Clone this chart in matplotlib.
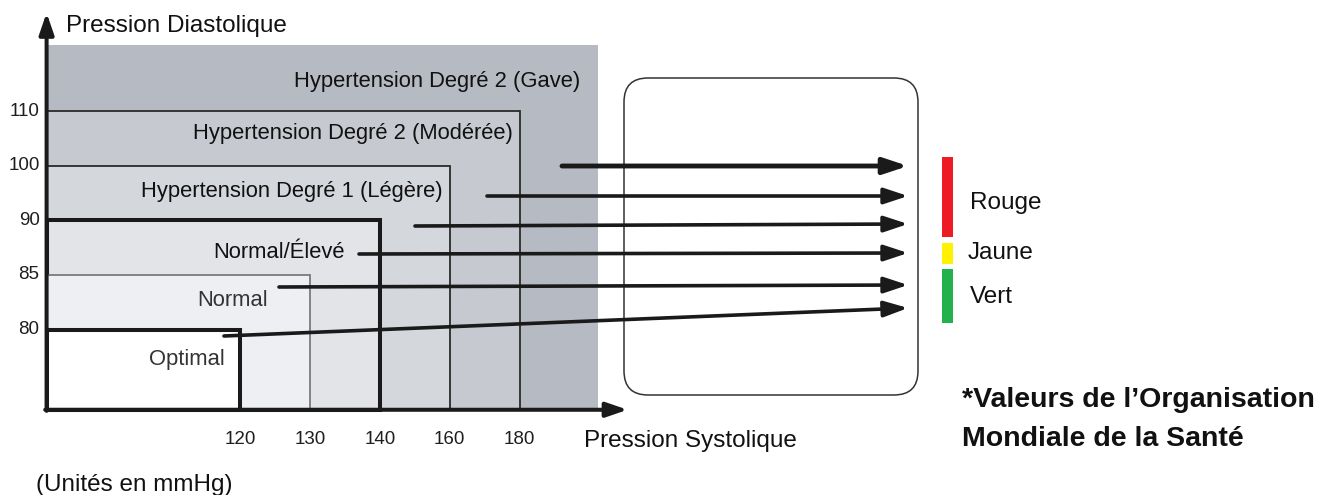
import matplotlib
matplotlib.use("Agg")
import matplotlib.pyplot as plt
from matplotlib.patches import Rectangle, FancyBboxPatch

plt.rcParams['font.family'] = ['Liberation Sans', 'DejaVu Sans']

# WHO blood-pressure classification thresholds (mmHg)
systolic_ticks = [120, 130, 140, 160, 180]
diastolic_ticks = [80, 85, 90, 100, 110]

# Categories from the innermost (lowest) to the outermost band
categories = [
    "Optimal",
    "Normal",
    "Normal/Élevé",
    "Hypertension Degré 1 (Légère)",
    "Hypertension Degré 2 (Modérée)",
    "Hypertension Degré 2 (Gave)",
]
category_signal = ["Vert", "Vert", "Jaune", "Rouge", "Rouge", "Rouge"]

signal_names = ["Rouge", "Jaune", "Vert"]
signal_colors = ["#ed1c24", "#fff200", "#22b14c"]

# ---- styling -------------------------------------------------------------
band_fill = ["#ffffff", "#eeeff2", "#e2e4e8", "#d4d7dc", "#c6c9d0", "#b6bac3"]
band_edge = ["#1a1a1a", "#7a7a7a", "#1a1a1a", "#2a2a2a", "#2a2a2a", "none"]
band_lw = [2.9, 1.3, 2.9, 1.3, 1.3, 0]
ink = "#1a1a1a"

W, H = 1343, 495
fig = plt.figure(figsize=(W / 100, H / 100), dpi=100)

# Ordinal axes: each threshold sits on its own slot
slot_px, slot_step = 240.5, 69.75        # x pixel of first slot, slot width
row_px, row_step = 329.5, 54.6           # y pixel (from top) of first row, row height
ax = fig.add_axes([0, 0, 1, 1])
ax.set_xlim(-slot_px / slot_step, (W - slot_px) / slot_step)
ax.set_ylim((row_px - H) / row_step, row_px / row_step)
ax.axis("off")

x0, y0 = -2.78, -1.47    # origin
xe, ye = 5.12, 5.21      # outer edge of the last band

# Nested bands, outermost first
for k in range(len(categories) - 1, -1, -1):
    right = xe if k == len(categories) - 1 else k
    top = ye if k == len(categories) - 1 else k
    ax.add_patch(Rectangle((x0, y0), right - x0, top - y0,
                           facecolor=band_fill[k], edgecolor=band_edge[k],
                           linewidth=band_lw[k], zorder=1 + (len(categories) - k) * 0.01,
                           joinstyle="miter"))

# Axes with arrow heads
axis_kw = dict(arrowstyle="-|>,head_length=1.6,head_width=0.55", lw=2.9,
               color=ink, mutation_scale=8, shrinkA=0, shrinkB=0)
ax.annotate("", xy=(x0, 5.80), xytext=(x0, y0 - 0.02), arrowprops=axis_kw, zorder=5)
ax.annotate("", xy=(5.55, y0), xytext=(x0 - 0.02, y0), arrowprops=axis_kw, zorder=5)

# Tick labels
for i, v in enumerate(systolic_ticks):
    ax.text(i, y0 - 0.55, str(v), ha="center", va="center", fontsize=13.5, color="#1e1e1e")
for j, v in enumerate(diastolic_ticks):
    ax.text(x0 - 0.1, j, str(v), ha="right", va="center", fontsize=13.5, color="#1e1e1e")

# ---- annotation layer in pixel units --------------------------------------
ov = fig.add_axes([0, 0, 1, 1], zorder=2)
ov.set_xlim(0, W)
ov.set_ylim(H, 0)
ov.axis("off")
ov.patch.set_alpha(0)

ov.text(66, 26, "Pression Diastolique", ha="left", va="center", fontsize=17.5, color="#111111")
ov.text(584, 441, "Pression Systolique", ha="left", va="center", fontsize=17.5, color="#111111")
ov.text(36, 485, "(Unités en mmHg)", ha="left", va="center", fontsize=17.5, color="#111111")

label_pos = [(225, 359), (268, 300), (345, 253), (443, 192), (513, 133), (580, 81)]
label_color = ["#333333", "#333333", "#111111", "#111111", "#111111", "#111111"]
for name, (lx, ly), c in zip(categories, label_pos, label_color):
    ov.text(lx, ly, name, ha="right", va="center", fontsize=15.8, color=c)

# Rounded panel
ov.add_patch(FancyBboxPatch((624, 78), 294, 317,
                            boxstyle="round,pad=0,rounding_size=24",
                            facecolor="none", edgecolor="#333333", linewidth=1.1))

# Arrows from each category to the signal column
arrow_start = [(224, 336), (279, 287), (359, 254), (415, 226), (487, 196), (562, 166)]
arrow_end = [(908, 308), (908, 285), (908, 253), (908, 224), (908, 196), (908, 166)]
arrow_lw = [2.6, 2.6, 2.6, 2.6, 2.6, 3.5]
for (sx, sy), (ex, ey), lw in zip(arrow_start, arrow_end, arrow_lw):
    ov.annotate("", xy=(ex, ey), xytext=(sx, sy),
                arrowprops=dict(arrowstyle="-|>,head_length=1.45,head_width=0.48",
                                lw=lw, color=ink, mutation_scale=10,
                                shrinkA=0, shrinkB=0))

# Signal colour column
signal_span = {"Rouge": (157, 237), "Jaune": (243, 264), "Vert": (269, 323)}
signal_label = {"Rouge": (970, 203), "Jaune": (968, 253), "Vert": (970, 297)}
for name, col in zip(signal_names, signal_colors):
    top, bottom = signal_span[name]
    ov.add_patch(Rectangle((942, top), 11, bottom - top, facecolor=col, edgecolor="none"))
    ov.text(*signal_label[name], name, ha="left", va="center", fontsize=17.5, color="#111111")

ov.text(962, 400, "*Valeurs de l’Organisation", ha="left", va="center",
        fontsize=20.5, fontweight="bold", color="#111111")
ov.text(962, 439, "Mondiale de la Santé", ha="left", va="center",
        fontsize=20.5, fontweight="bold", color="#111111")

fig.savefig("out.png", dpi=100, facecolor="white")
